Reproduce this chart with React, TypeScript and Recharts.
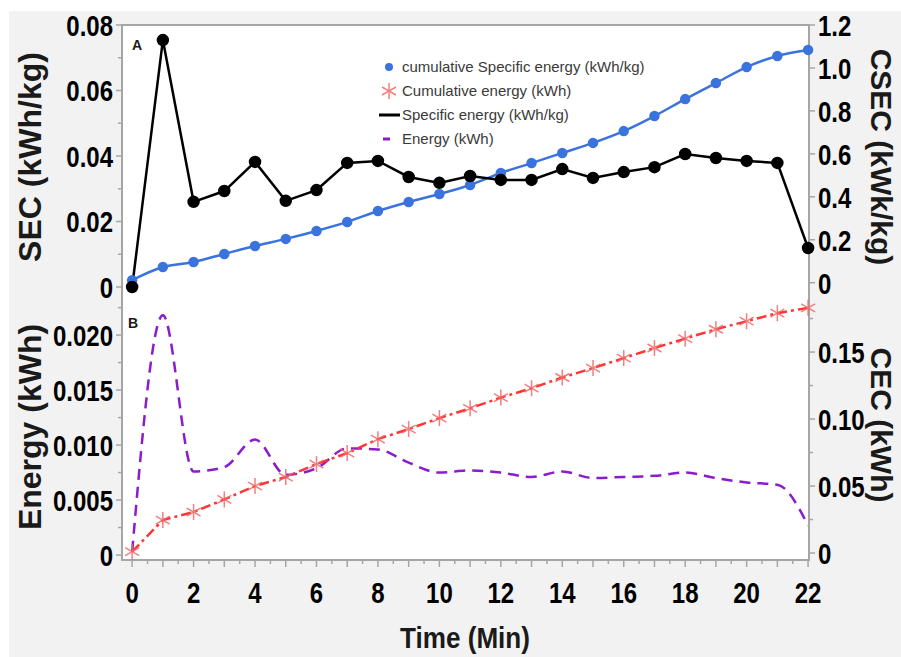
import { ComposedChart, Line, XAxis, YAxis } from 'recharts';

// time axis (min)
const minutes = [0, 1, 2, 3, 4, 5, 6, 7, 8, 9, 10, 11, 12, 13, 14, 15, 16, 17, 18, 19, 20, 21, 22];

// panel A
const specificEnergy = [0, 0.0754, 0.026, 0.0293, 0.0382, 0.0263, 0.0296, 0.0379, 0.0385, 0.0336, 0.0318, 0.0339, 0.0327, 0.0327, 0.036, 0.0333, 0.0351, 0.0366, 0.0406, 0.0394, 0.0385, 0.0379, 0.0119];
const cumulativeSpecificEnergy = [0.012, 0.073, 0.0965, 0.134, 0.171, 0.204, 0.241, 0.283, 0.334, 0.376, 0.413, 0.455, 0.511, 0.557, 0.604, 0.651, 0.706, 0.776, 0.855, 0.93, 1.004, 1.056, 1.084];

// panel B
const energy = [0.0003, 0.0218, 0.0076, 0.008, 0.0105, 0.0073, 0.0079, 0.0097, 0.0096, 0.0084, 0.0075, 0.0077, 0.0075, 0.0071, 0.0076, 0.007, 0.0071, 0.0072, 0.0075, 0.007, 0.0066, 0.0064, 0.0027];
const cumulativeEnergy = [0.001, 0.0246, 0.0306, 0.04, 0.05, 0.0567, 0.0664, 0.0746, 0.085, 0.0925, 0.1007, 0.108, 0.116, 0.123, 0.131, 0.138, 0.1455, 0.153, 0.16, 0.167, 0.173, 0.179, 0.183];

// tick labels
const xTickLabels = [0, 2, 4, 6, 8, 10, 12, 14, 16, 18, 20, 22];
const secTicks = [0, 0.02, 0.04, 0.06, 0.08];
const secMinor = [0.01, 0.03, 0.05, 0.07];
const csecTicks = [0, 0.2, 0.4, 0.6, 0.8, 1.0, 1.2];
const energyTicks = [0, 0.005, 0.01, 0.015, 0.02];
const energyMinor = [0.0025, 0.0075, 0.0125, 0.0175, 0.0225];
const cecTicks = [0, 0.05, 0.1, 0.15];
const cecMinor = [0.025, 0.075, 0.125, 0.175];

const legendLabels = [
  'cumulative Specific energy (kWh/kg)',
  'Cumulative energy (kWh)',
  'Specific energy (kWh/kg)',
  'Energy (kWh)',
];

const BLUE = '#3b73de';
const RED = '#ff3434';
const STAR = '#f06a6a';
const PURPLE = '#8a1ccc';
const FRAME = '#a6a6a6';
const FONT = "'Liberation Sans', Arial, sans-serif";

const data = minutes.map((t, i) => ({
  t,
  sec: specificEnergy[i],
  csec: cumulativeSpecificEnergy[i],
  energy: energy[i],
  cec: cumulativeEnergy[i],
}));

const xTicks = Array.from({ length: 45 }, (_, i) => i / 2);
const has = (arr: number[], v: number) => arr.some((m) => Math.abs(m - v) < 1e-9);
const fmt = (v: number, digits: number) => (v === 0 ? '0' : v.toFixed(digits));

function makeYTick(side: 'left' | 'right', majors: number[], digits: number) {
  return (props: any) => {
    const { x, y, payload } = props;
    const v = payload.value;
    const major = has(majors, v);
    const dir = side === 'left' ? -1 : 1;
    const len = major ? 6 : 4;
    return (
      <g>
        <line x1={x} x2={x + dir * len} y1={y} y2={y} stroke={FRAME} strokeWidth={1.5} />
        {major && (
          <text
            transform={`translate(${x + dir * (len + 3)},${y}) scale(0.8,1)`}
            textAnchor={side === 'left' ? 'end' : 'start'}
            dy="0.36em"
            fontSize={30}
            fontWeight={700}
            fontFamily={FONT}
            fill="#000"
          >
            {fmt(v, digits)}
          </text>
        )}
      </g>
    );
  };
}

function XTick(props: any) {
  const { x, y, payload } = props;
  const v = payload.value;
  const whole = Number.isInteger(v);
  const len = whole ? 7 : 4;
  return (
    <g>
      <line x1={x} x2={x} y1={y} y2={y + len} stroke={FRAME} strokeWidth={1.5} />
      {has(xTickLabels, v) && (
        <text
          transform={`translate(${x},${y + 43}) scale(0.8,1)`}
          textAnchor="middle"
          fontSize={30}
          fontWeight={700}
          fontFamily={FONT}
          fill="#000"
        >
          {v}
        </text>
      )}
    </g>
  );
}

function StarDot(props: any) {
  const { cx, cy } = props;
  if (cx == null || cy == null) return null;
  const r = 8;
  return (
    <g stroke={STAR} strokeWidth={1.5} opacity={0.85}>
      <line x1={cx} y1={cy - r} x2={cx} y2={cy + r} />
      <line x1={cx - r * 0.87} y1={cy - r * 0.5} x2={cx + r * 0.87} y2={cy + r * 0.5} />
      <line x1={cx - r * 0.87} y1={cy + r * 0.5} x2={cx + r * 0.87} y2={cy - r * 0.5} />
    </g>
  );
}

const abs = { position: 'absolute' as const, left: 0, top: 0 };

export default function App() {
  return (
    <div style={{ position: 'absolute', left: 0, top: 0, width: 901, height: 657, background: '#fff', overflow: 'hidden' }}>
      <div style={{ position: 'absolute', left: 9, top: 11, width: 892, height: 646, background: '#f2f2f2' }} />
      <div
        style={{
          position: 'absolute',
          left: 121,
          top: 24,
          width: 689,
          height: 537,
          boxSizing: 'border-box',
          background: '#fff',
          border: `2px solid ${FRAME}`,
        }}
      />

      {/* A: specific energy */}
      <ComposedChart width={901} height={657} data={data} margin={{ top: 25, right: 0, bottom: 370, left: 0 }} style={abs}>
        <XAxis dataKey="t" type="number" domain={[-0.33, 22.03]} hide />
        <YAxis
          yAxisId="sec"
          domain={[0, 0.08]}
          ticks={[...secTicks, ...secMinor]}
          interval={0}
          width={122}
          tickSize={0}
          tickMargin={0}
          tick={makeYTick('left', secTicks, 2)}
          axisLine={{ stroke: FRAME, strokeWidth: 2 }}
        />
        <YAxis
          yAxisId="csec"
          orientation="right"
          domain={[-0.02, 1.2]}
          ticks={csecTicks}
          interval={0}
          width={92}
          tickSize={0}
          tickMargin={0}
          tick={makeYTick('right', csecTicks, 1)}
          axisLine={{ stroke: FRAME, strokeWidth: 2 }}
        />
        <Line
          yAxisId="csec"
          dataKey="csec"
          type="monotone"
          stroke={BLUE}
          strokeWidth={2.5}
          dot={{ r: 4, fill: BLUE, stroke: BLUE }}
          isAnimationActive={false}
        />
        <Line
          yAxisId="sec"
          dataKey="sec"
          type="linear"
          stroke="#000"
          strokeWidth={2.5}
          dot={{ r: 5, fill: '#000', stroke: '#000' }}
          isAnimationActive={false}
        />
      </ComposedChart>

      {/* B: energy */}
      <ComposedChart width={901} height={657} data={data} margin={{ top: 290, right: 0, bottom: 0, left: 0 }} style={abs}>
        <XAxis
          dataKey="t"
          type="number"
          domain={[-0.33, 22.03]}
          ticks={xTicks}
          interval={0}
          height={97}
          tickSize={0}
          tickMargin={0}
          tick={<XTick />}
          axisLine={{ stroke: FRAME, strokeWidth: 2 }}
        />
        <YAxis
          yAxisId="energy"
          domain={[-0.00045, 0.0241]}
          ticks={[...energyTicks, ...energyMinor]}
          interval={0}
          width={122}
          tickSize={0}
          tickMargin={0}
          tick={makeYTick('left', energyTicks, 3)}
          axisLine={{ stroke: FRAME, strokeWidth: 2 }}
        />
        <YAxis
          yAxisId="cec"
          orientation="right"
          domain={[-0.0052, 0.1963]}
          ticks={[...cecTicks, ...cecMinor]}
          interval={0}
          width={92}
          tickSize={0}
          tickMargin={0}
          tick={makeYTick('right', cecTicks, 2)}
          axisLine={{ stroke: FRAME, strokeWidth: 2 }}
        />
        <Line
          yAxisId="energy"
          dataKey="energy"
          type="monotone"
          stroke={PURPLE}
          strokeWidth={2.5}
          strokeDasharray="11 7"
          dot={false}
          isAnimationActive={false}
        />
        <Line
          yAxisId="cec"
          dataKey="cec"
          type="linear"
          stroke={RED}
          strokeWidth={2.5}
          strokeDasharray="10 4 3 4"
          dot={<StarDot />}
          isAnimationActive={false}
        />
      </ComposedChart>

      {/* titles, panel letters and legend */}
      <svg width={901} height={657} style={{ ...abs, pointerEvents: 'none' }}>
        <g fontFamily={FONT} fontWeight={700} fill="#1a1a1a">
          <text transform="translate(41,157) rotate(-90)" textAnchor="middle" fontSize={32}>SEC (kWh/kg)</text>
          <text transform="translate(41,427) rotate(-90)" textAnchor="middle" fontSize={32}>Energy (kWh)</text>
          <text transform="translate(871,157) rotate(90)" textAnchor="middle" fontSize={30}>CSEC (kWk/kg)</text>
          <text transform="translate(871,425) rotate(90)" textAnchor="middle" fontSize={30}>CEC (kWh)</text>
          <text transform="translate(465,648) scale(0.9,1)" textAnchor="middle" fontSize={29}>Time (Min)</text>
          <text x={137} y={45} dy="0.35em" textAnchor="middle" fontSize={14}>A</text>
          <text x={133} y={323} dy="0.35em" textAnchor="middle" fontSize={14}>B</text>
        </g>
        <g fontFamily={FONT} fontSize={15} fill="#3a3a3a">
          <circle cx={389} cy={67} r={4} fill={BLUE} />
          <StarDot cx={389} cy={91} />
          <line x1={379} x2={400} y1={115} y2={115} stroke="#000" strokeWidth={3} />
          <line x1={383} x2={390} y1={139} y2={139} stroke={PURPLE} strokeWidth={3} />
          {legendLabels.map((label, i) => (
            <text key={label} x={402} y={67 + i * 24} dy="0.35em">{label}</text>
          ))}
        </g>
      </svg>
    </div>
  );
}
